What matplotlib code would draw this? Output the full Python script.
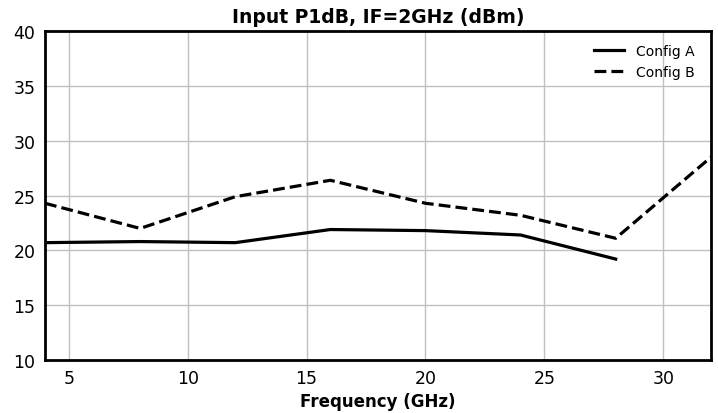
import matplotlib
matplotlib.use("Agg")
import matplotlib.pyplot as plt

freq_a = [4, 8, 12, 16, 20, 24, 28]
config_a = [20.7, 20.8, 20.7, 21.9, 21.8, 21.4, 19.2]
freq_b = [4, 8, 12, 16, 20, 24, 28, 32]
config_b = [24.3, 22.0, 24.9, 26.4, 24.3, 23.2, 21.1, 28.5]

fig = plt.figure(figsize=(7.18, 4.14), dpi=100)
ax = fig.add_axes([0.0627, 0.1287, 0.9273, 0.7928])
ax.plot(freq_a, config_a, color="black", lw=2.3, ls="-", label="Config A")
ax.plot(freq_b, config_b, color="black", lw=2.3, ls=(0, (3.7, 1.6)), label="Config B")
ax.set_xlim(4, 32)
ax.set_ylim(10, 40)
ax.set_xticks([5, 10, 15, 20, 25, 30])
ax.set_yticks([10, 15, 20, 25, 30, 35, 40])
ax.grid(True, color="#c0c0c0", lw=1)
ax.set_axisbelow(True)
for s in ax.spines.values():
    s.set_linewidth(2)
ax.tick_params(length=0, labelsize=12.5, pad=7)
ax.set_title("Input P1dB, IF=2GHz (dBm)", fontsize=13.5, fontweight="bold", pad=7)
ax.set_xlabel("Frequency (GHz)", fontsize=12, fontweight="bold", labelpad=3)
ax.legend(loc="upper right", frameon=False, fontsize=10, handlelength=2.2,
          bbox_to_anchor=(0.994, 1.0))
fig.savefig("out.png", dpi=100)
